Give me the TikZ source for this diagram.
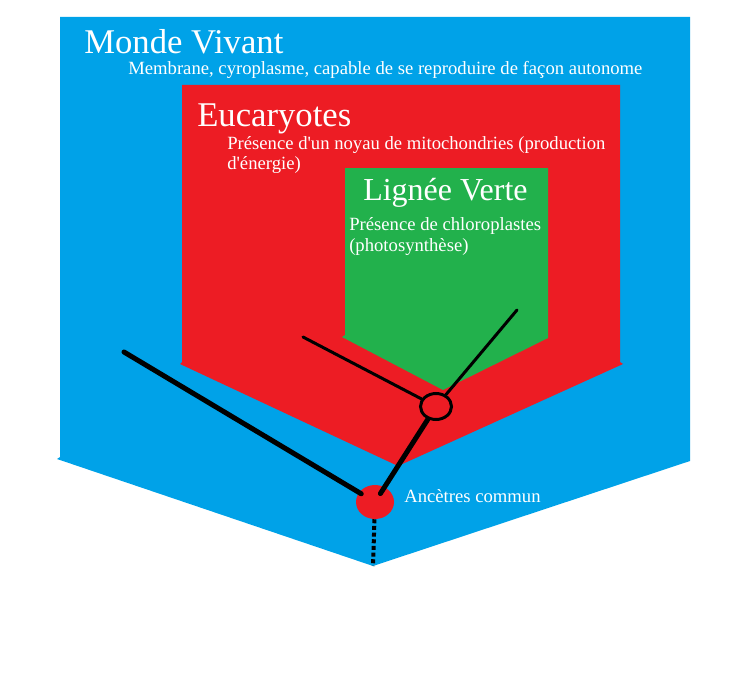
\documentclass[tikz,border=0pt]{standalone}
\usepackage{fontspec}
\setmainfont{Liberation Serif}
\usetikzlibrary{shapes.geometric}
\definecolor{vivantcol}{RGB}{0,162,232}
\definecolor{eucarcol}{RGB}{237,28,36}
\definecolor{vertcol}{RGB}{34,177,76}

\begin{document}
\begin{tikzpicture}[x=0.75pt, y=-0.75pt,
  titre/.style={anchor=base west, inner sep=0pt, text=white,
                font=\fontsize{26}{30}\selectfont},
  desc/.style={anchor=base west, inner sep=0pt, text=white, align=left,
               font=\fontsize{14}{15.75}\selectfont},
  branche/.style={line width=#1, line cap=round},
  noeud/.style={ellipse, draw, line width=2.25pt, fill=eucarcol, inner sep=0pt,
                minimum width=23.25pt, minimum height=19.5pt},
  ancetre/.style={ellipse, fill=eucarcol, inner sep=0pt,
                  minimum width=28.5pt, minimum height=25.5pt},
]
\useasboundingbox (0,0) rectangle (752,688);

% groupes emboites
\fill[vivantcol] (60,17) -- (690,17) -- (690,461) -- (373,566) -- (57,459) -- (60,457) -- cycle;
\fill[eucarcol]  (182,85) -- (620,85) -- (620,362) -- (623,364) -- (398,466) -- (180,364) -- (182,362) -- cycle;
\fill[vertcol]   (345,168) -- (548,168) -- (548,338) -- (443,390) -- (342,337) -- (345,335) -- cycle;

\node[titre] (monde) at (84,54) {Monde Vivant};
\node[desc] (membrane) at (128,75) {Membrane, cyroplasme, capable de se reproduire de façon autonome};
\node[titre] (eucar) at (197,127) {Eucaryotes};
\node[desc] (noyau) at (227,170)
    {Présence d\textquotesingle un noyau de mitochondries (production\\
     d\textquotesingle énergie)};
\node[titre, font=\fontsize{24}{28}\selectfont] (verte) at (363,200) {Lignée Verte};
\node[desc] (chloro) at (349,251) {Présence de chloroplastes\\(photosynthèse)};

% arbre
\node[noeud] (div) at (436,406.5) {};
\node[ancetre] (lca) at (375,502) {};
\node[desc] (lcalabel) at (404,502) {Ancètres commun};

\coordinate (feuilleA) at (124,352);
\coordinate (feuilleB) at (303,337);
\coordinate (feuilleC) at (517,310);
\coordinate (racine) at (373,566);

\draw[branche=3.75pt, shorten >=12pt] (feuilleA) -- (lca.center);
\draw[branche=2.25pt] (feuilleB) -- (div);
\draw[branche=2.25pt] (feuilleC) -- (div);
\draw[branche=3.75pt, shorten >=7.5pt] (div) -- (lca.center);
\draw[line width=3pt, dash pattern=on 3pt off 2pt] (lca) -- (racine);
\end{tikzpicture}
\end{document}
